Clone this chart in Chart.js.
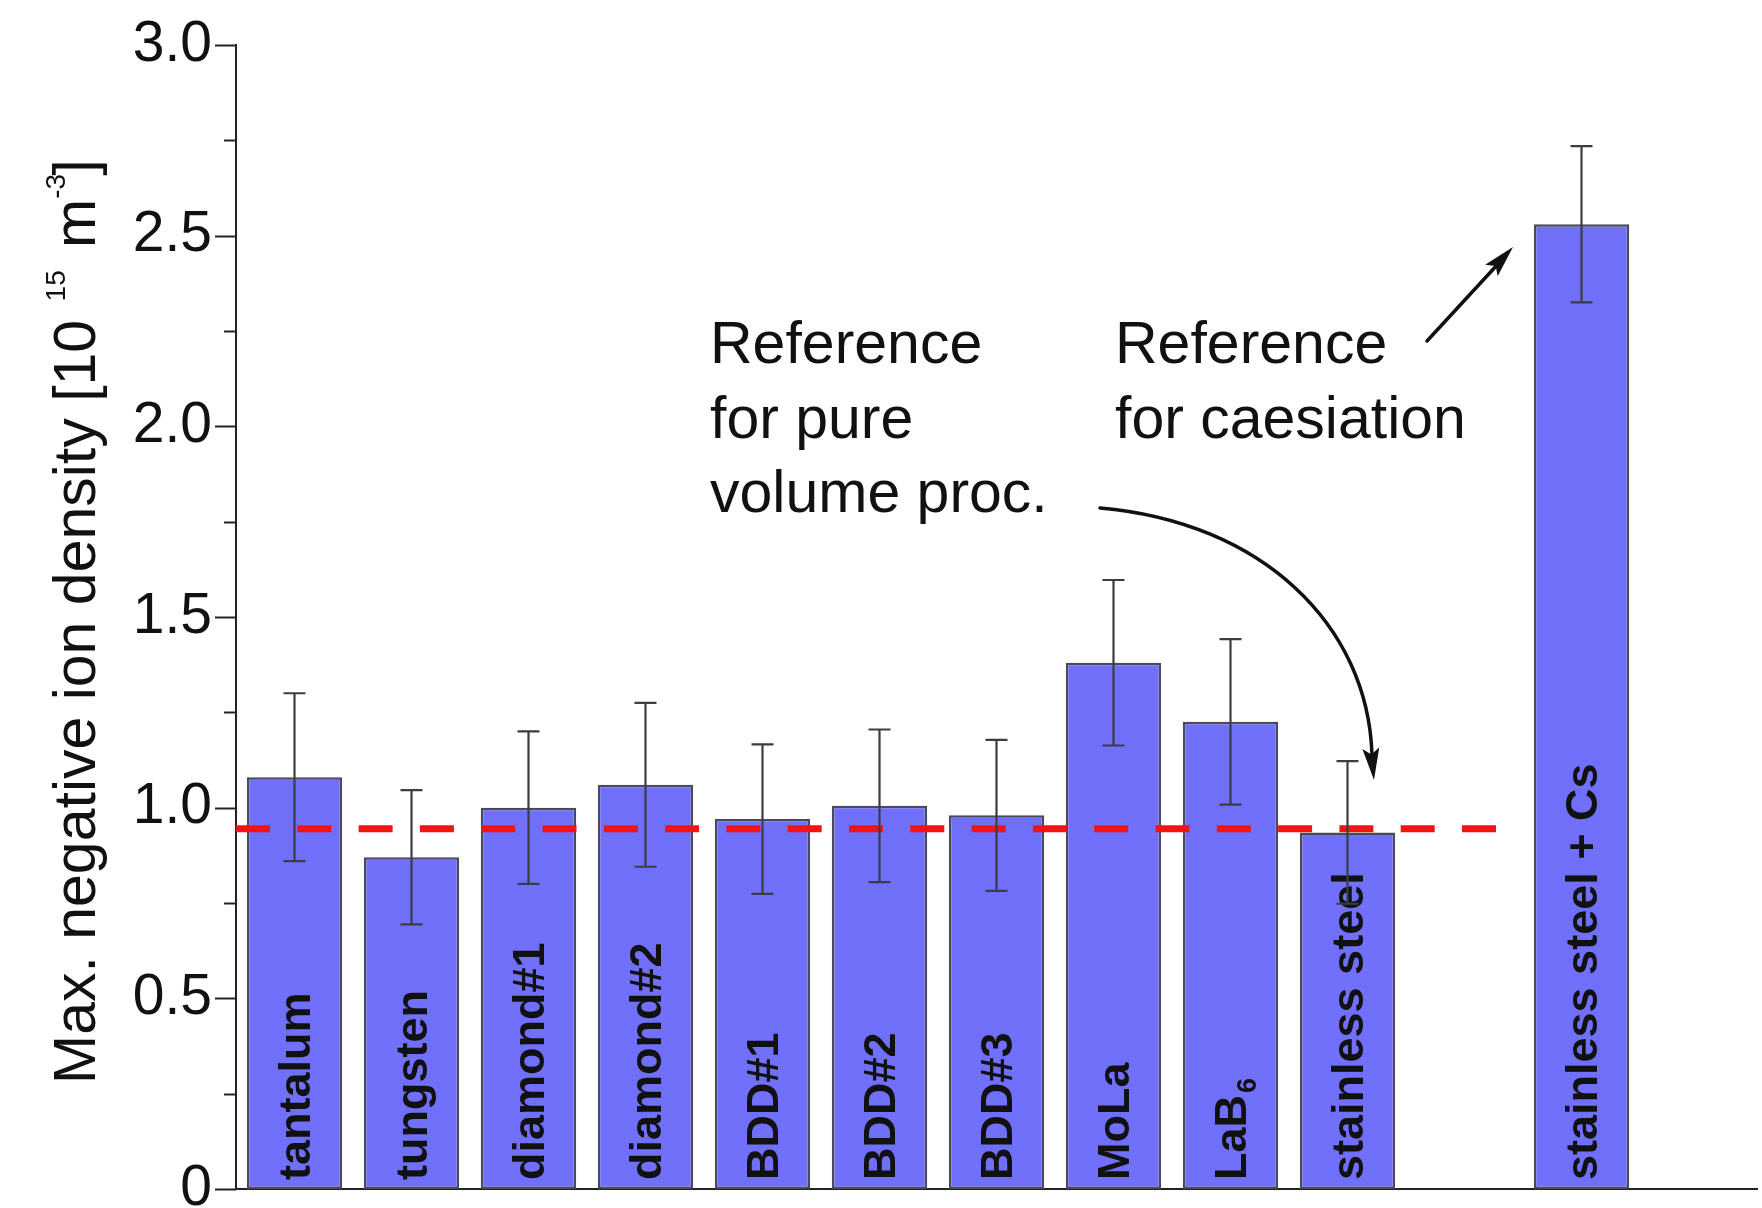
<!DOCTYPE html>
<html>
<head>
<meta charset="utf-8">
<script src="https://cdn.jsdelivr.net/npm/chart.js@4.4.0/dist/chart.umd.min.js"></script>
<style>
  html, body { margin: 0; padding: 0; background: #ffffff; }
  canvas { display: block; }
</style>
</head>
<body>
<canvas id="chart" width="1762" height="1208"></canvas>
<script>
// Electrode materials (empty slots leave gaps on the category axis)
const materials = ['tantalum', 'tungsten', 'diamond#1', 'diamond#2', 'BDD#1', 'BDD#2', 'BDD#3',
                   'MoLa', 'LaB6', 'stainless steel', '', 'stainless steel + Cs', ''];
// Maximum negative ion density, 10^15 m^-3
const densities = [1.08, 0.87, 1.00, 1.06, 0.97, 1.005, 0.98, 1.38, 1.225, 0.935, null, 2.53, null];
// Half-width of the error bars, 10^15 m^-3
const densityErrors = [0.22, 0.176, 0.20, 0.215, 0.196, 0.20, 0.198, 0.217, 0.217, 0.187, null, 0.205, null];
// Reference level for the pure volume process and where the dashed line stops (category index)
const referenceLevel = 0.945;
const referenceEnd = 10.29;
// Labelled y ticks
const yMajorTicks = [0, 0.5, 1.0, 1.5, 2.0, 2.5, 3.0];

const FONT = '"Liberation Sans", Arial, Helvetica, sans-serif';

// Draws error bars, in-bar labels, the dashed reference line, axis ticks, title and annotations
const decorations = {
  id: 'decorations',
  afterDatasetsDraw(chart) {
    const ctx = chart.ctx;
    const xs = chart.scales.x;
    const ys = chart.scales.y;
    const area = chart.chartArea;
    const bars = chart.getDatasetMeta(0).data;

    // vertical bar labels
    ctx.save();
    ctx.fillStyle = '#111111';
    bars.forEach((bar, i) => {
      if (densities[i] == null) return;
      const name = materials[i];
      ctx.save();
      ctx.translate(bar.x + 15, ys.bottom - 9);
      ctx.rotate(-Math.PI / 2);
      ctx.textAlign = 'left';
      ctx.textBaseline = 'alphabetic';
      ctx.font = 'bold 45px ' + FONT;
      if (name === 'LaB6') {
        ctx.fillText('LaB', 0, 0);
        const w = ctx.measureText('LaB').width;
        ctx.font = 'bold 27px ' + FONT;
        ctx.fillText('6', w + 2, 10);
      } else {
        ctx.fillText(name, 0, 0);
      }
      ctx.restore();
    });
    ctx.restore();

    // dashed reference line
    ctx.save();
    ctx.strokeStyle = '#f21414';
    ctx.lineWidth = 7;
    ctx.setLineDash([34, 27.3]);
    const ry = ys.getPixelForValue(referenceLevel);
    ctx.beginPath();
    ctx.moveTo(area.left, ry);
    ctx.lineTo(xs.getPixelForValue(referenceEnd), ry);
    ctx.stroke();
    ctx.restore();

    // error bars
    ctx.save();
    ctx.strokeStyle = '#3c3c46';
    ctx.lineWidth = 2.2;
    bars.forEach((bar, i) => {
      if (densities[i] == null) return;
      const top = ys.getPixelForValue(densities[i] + densityErrors[i]);
      const bot = ys.getPixelForValue(densities[i] - densityErrors[i]);
      const cap = 11;
      ctx.beginPath();
      ctx.moveTo(bar.x, top); ctx.lineTo(bar.x, bot);
      ctx.moveTo(bar.x - cap, top); ctx.lineTo(bar.x + cap, top);
      ctx.moveTo(bar.x - cap, bot); ctx.lineTo(bar.x + cap, bot);
      ctx.stroke();
    });
    ctx.restore();
  },
  afterDraw(chart) {
    const ctx = chart.ctx;
    const ys = chart.scales.y;
    const area = chart.chartArea;

    // y axis tick marks (long at labelled values, short in between)
    ctx.save();
    ctx.strokeStyle = '#222222';
    ctx.lineWidth = 2;
    ys.ticks.forEach(t => {
      const y = Math.round(ys.getPixelForValue(t.value)) + 0.5;
      const major = yMajorTicks.some(m => Math.abs(m - t.value) < 1e-6);
      ctx.beginPath();
      ctx.moveTo(area.left - (major ? 21 : 12), y);
      ctx.lineTo(area.left, y);
      ctx.stroke();
    });
    ctx.restore();

    // y axis title with superscripts
    ctx.save();
    ctx.fillStyle = '#111111';
    ctx.translate(95, 1084);
    ctx.rotate(-Math.PI / 2);
    ctx.textBaseline = 'alphabetic';
    ctx.textAlign = 'left';
    const big = '59px ' + FONT;
    const small = '28px ' + FONT;
    let x = 0;
    const put = (txt, font, dy, gap) => {
      x += gap;
      ctx.font = font;
      ctx.fillText(txt, x, dy);
      x += ctx.measureText(txt).width;
    };
    put('Max. negative ion density [10 ', big, 0, 0);
    put('15', small, -30, 2);
    put(' m', big, 0, 6);
    put('-3', small, -30, 0);
    put(']', big, 0, -2);
    ctx.restore();

    // annotation texts
    ctx.save();
    ctx.fillStyle = '#111111';
    ctx.font = '59px ' + FONT;
    ctx.textAlign = 'left';
    ctx.textBaseline = 'alphabetic';
    ['Reference', 'for pure', 'volume proc.'].forEach((s, k) => ctx.fillText(s, 710, 363 + k * 74.5));
    ['Reference', 'for caesiation'].forEach((s, k) => ctx.fillText(s, 1115, 363 + k * 74.5));
    ctx.restore();

    // arrows
    const head = (tx, ty, dx, dy) => {
      const len = Math.hypot(dx, dy);
      const ux = dx / len, uy = dy / len;
      const L = 32, W = 8.5;
      ctx.beginPath();
      ctx.moveTo(tx, ty);
      ctx.lineTo(tx - ux * L - uy * W, ty - uy * L + ux * W);
      ctx.lineTo(tx - ux * L * 0.8, ty - uy * L * 0.8);
      ctx.lineTo(tx - ux * L + uy * W, ty - uy * L - ux * W);
      ctx.closePath();
      ctx.fill();
    };
    ctx.save();
    ctx.strokeStyle = '#111111';
    ctx.fillStyle = '#111111';
    ctx.lineWidth = 3.5;
    ctx.lineCap = 'round';
    // curved arrow towards the stainless steel reference
    ctx.beginPath();
    ctx.moveTo(1100, 508);
    ctx.bezierCurveTo(1262, 522, 1368, 625, 1372, 755);
    ctx.stroke();
    head(1374, 780, 0.1, 1);
    // straight arrow towards the caesiated bar
    ctx.beginPath();
    ctx.moveTo(1427, 341);
    ctx.lineTo(1498, 264);
    ctx.stroke();
    head(1513, 247, 86, -94);
    ctx.restore();
  }
};

new Chart(document.getElementById('chart'), {
  type: 'bar',
  data: {
    labels: materials,
    datasets: [{
      data: densities,
      backgroundColor: 'rgb(112, 112, 250)',
      borderColor: '#4a4a5c',
      borderWidth: 2.5,
      borderSkipped: false,
      categoryPercentage: 1.0,
      barPercentage: 0.815
    }]
  },
  options: {
    responsive: false,
    devicePixelRatio: 1,
    animation: false,
    layout: { padding: { top: 45, bottom: 19, left: 0, right: 5 } },
    plugins: { legend: { display: false }, tooltip: { enabled: false } },
    scales: {
      x: {
        type: 'category',
        offset: true,
        grid: { display: false, drawTicks: false },
        ticks: { display: false },
        border: { display: true, color: '#222222', width: 2 },
        afterFit(scale) { scale.height = 0; scale.paddingLeft = 0; scale.paddingRight = 0; }
      },
      y: {
        min: 0,
        max: 3,
        grid: { display: false, drawTicks: false },
        border: { display: true, color: '#222222', width: 2 },
        ticks: {
          stepSize: 0.25,
          padding: 24,
          color: '#111111',
          font: { family: FONT, size: 57 },
          callback(v) {
            if (!yMajorTicks.some(m => Math.abs(m - v) < 1e-6)) return '';
            return v === 0 ? '0' : v.toFixed(1);
          }
        },
        afterFit(scale) { scale.width = 236; scale.paddingTop = 0; scale.paddingBottom = 0; }
      }
    }
  },
  plugins: [decorations]
});
</script>
</body>
</html>
